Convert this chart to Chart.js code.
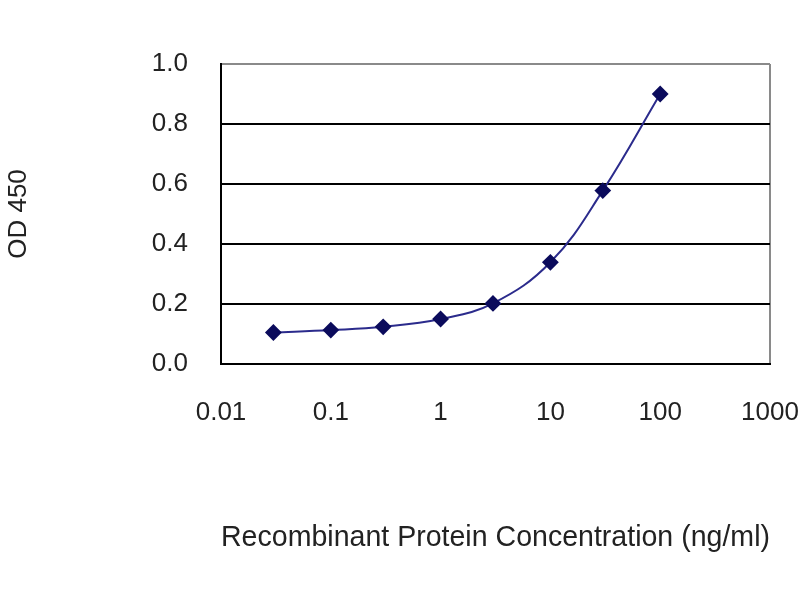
<!DOCTYPE html>
<html>
<head>
<meta charset="utf-8">
<script src="https://cdn.jsdelivr.net/npm/chart.js@4"></script>
<style>
  html, body { margin: 0; padding: 0; background: #fff; }
  #wrap { width: 800px; height: 600px; }
</style>
</head>
<body>
<div id="wrap"><canvas id="chart" width="800" height="600"></canvas></div>
<script>
// concentrations (ng/ml) and OD readings
const concentrations = [0.03, 0.1, 0.3, 1, 3, 10, 30, 100];
const odValues = [0.105, 0.113, 0.124, 0.150, 0.202, 0.339, 0.578, 0.900];

const xTickValues = [0.01, 0.1, 1, 10, 100, 1000];
const xTickLabels = ["0.01", "0.1", "1", "10", "100", "1000"];
const yTickValues = [0, 0.2, 0.4, 0.6, 0.8, 1.0];
const yTickLabels = ["0.0", "0.2", "0.4", "0.6", "0.8", "1.0"];

const fontFamily = "'Liberation Sans', Arial, sans-serif";
const textColor = "#222";

const chart = new Chart(document.getElementById("chart"), {
  type: "line",
  data: {
    datasets: [
      {
        label: "OD 450",
        data: concentrations.map((x, i) => ({ x, y: odValues[i] })),
        borderColor: "#2b2b8c",
        borderWidth: 2,
        backgroundColor: "#0b0b5c",
        pointStyle: "rectRot",
        pointRadius: 7,
        pointBorderColor: "#0b0b5c",
        pointBackgroundColor: "#0b0b5c",
        tension: 0.4,
        fill: false,
      },
    ],
  },
  options: {
    responsive: false,
    animation: false,
    layout: { padding: { top: 64, right: 30, left: 0, bottom: 0 } },
    plugins: {
      legend: { display: false },
      tooltip: { enabled: false },
    },
    scales: {
      x: {
        type: "logarithmic",
        min: 0.01,
        max: 1000,
        afterBuildTicks: (scale) => {
          scale.ticks = xTickValues.map((v) => ({ value: v, major: true }));
        },
        afterFit: (scale) => {
          scale.height = 236;
          scale.paddingLeft = 0;
          scale.paddingRight = 0;
        },
        ticks: {
          autoSkip: false,
          maxRotation: 0,
          padding: 33,
          color: textColor,
          font: { family: fontFamily, size: 26 },
          callback: (value, index) => xTickLabels[index],
        },
        grid: {
          drawTicks: false,
          lineWidth: 2,
          color: (ctx) => (ctx.tick && ctx.tick.value === 1000 ? "#8a8a8a" : "rgba(0,0,0,0)"),
        },
        border: { color: "#000", width: 2 },
        title: {
          display: true,
          text: "Recombinant Protein Concentration (ng/ml)",
          color: textColor,
          font: { family: fontFamily, size: 30 },
          padding: { top: 0, bottom: 44 },
        },
      },
      y: {
        type: "linear",
        min: 0,
        max: 1,
        afterBuildTicks: (scale) => {
          scale.ticks = yTickValues.map((v) => ({ value: v }));
        },
        afterFit: (scale) => {
          scale.width = 221;
          scale.paddingTop = 0;
          scale.paddingBottom = 0;
        },
        ticks: {
          padding: 33,
          color: textColor,
          font: { family: fontFamily, size: 26 },
          callback: (value, index) => yTickLabels[index],
        },
        grid: {
          drawTicks: false,
          lineWidth: 2,
          color: (ctx) => (ctx.tick && ctx.tick.value === 1 ? "#8a8a8a" : "#000"),
        },
        border: { color: "#000", width: 2 },
        title: {
          display: true,
          text: "OD 450",
          color: textColor,
          font: { family: fontFamily, size: 26 },
          padding: { top: 3, bottom: 0 },
        },
      },
    },
  },
});
</script>
</body>
</html>
